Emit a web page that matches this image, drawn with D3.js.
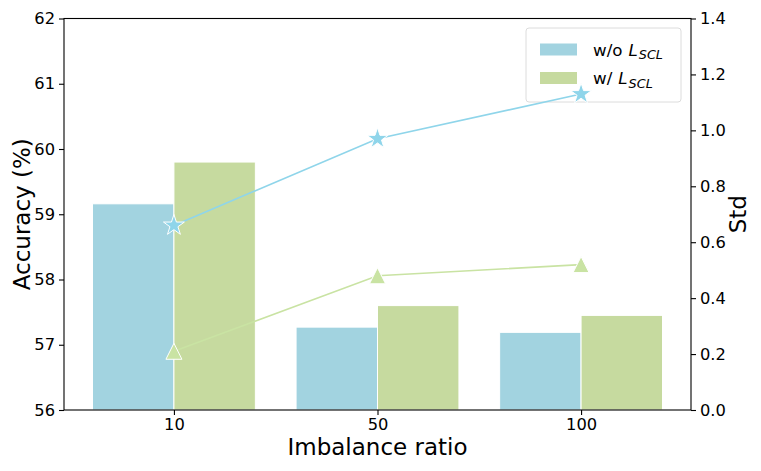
<!DOCTYPE html>
<html>
<head>
<meta charset="utf-8">
<script src="https://cdn.jsdelivr.net/npm/d3@7"></script>
<style>
  body { margin: 0; background: #fff; }
  text { font-family: "DejaVu Sans", sans-serif; fill: #000; }
</style>
</head>
<body>
<svg id="chart" width="761" height="471"></svg>
<script>
// imbalance ratios on the x axis
const ratios = ['10', '50', '100'];
// accuracy bars (left axis)
const accWo = [59.16, 57.27, 57.19];
const accW = [59.80, 57.60, 57.45];
// std lines (right axis)
const stdWo = [0.66, 0.97, 1.13];
const stdW = [0.21, 0.48, 0.52];
const accTicks = [56, 57, 58, 59, 60, 61, 62];
const stdTicks = [0, 0.2, 0.4, 0.6, 0.8, 1.0, 1.2, 1.4];

const blueBar = '#a2d3e0', greenBar = '#c6da9f';
const blueLine = '#8fd5ea', greenLine = '#c9e3a3';

const svg = d3.select('#chart');
const plotL = 64, plotR = 691, plotT = 18.5, plotB = 410;

// categorical index -> px (xlim -0.54 .. 2.54 like matplotlib margins)
const x = d3.scaleLinear().domain([-0.54, 2.54]).range([plotL, plotR]);
const yAcc = d3.scaleLinear().domain([56, 62]).range([plotB, plotT]);
const yStd = d3.scaleLinear().domain([0, 1.4]).range([plotB, plotT]);
const bw = 0.4;

const bars = [];
ratios.forEach((r, i) => {
    bars.push({i: i, off: -bw, v: accWo[i], c: blueBar});
    bars.push({i: i, off: 0, v: accW[i], c: greenBar});
});

svg.append('g').selectAll('rect')
    .data(bars)
    .join('rect')
    .attr('x', d => x(d.i + d.off))
    .attr('width', d => x(bw) - x(0))
    .attr('y', d => yAcc(d.v))
    .attr('height', d => plotB - yAcc(d.v))
    .style('fill', d => d.c)
    .style('stroke', '#fff')
    .style('stroke-width', 1);

// star / triangle paths
function starPath(R) {
    const r = R * 0.382, pts = [];
    for (let k = 0; k < 10; k++) {
        const a = -Math.PI / 2 + k * Math.PI / 5;
        const rr = k % 2 === 0 ? R : r;
        pts.push([rr * Math.cos(a), rr * Math.sin(a)]);
    }
    return 'M' + pts.map(p => p.join(',')).join('L') + 'Z';
}
function triPath(s) {
    return `M0,${-s}L${-s},${s}L${s},${s}Z`;
}

const lineGen = yS => d3.line().x((d, i) => x(i)).y(d => yS(d));

const series = [
    {vals: stdW, c: greenLine, path: triPath(8)},
    {vals: stdWo, c: blueLine, path: starPath(11)}
];

// legend (drawn under the std lines, like twinx in matplotlib)
const leg = svg.append('g').attr('transform', 'translate(526,28)');
leg.append('rect')
    .attr('width', 155).attr('height', 74).attr('rx', 3)
    .style('fill', '#fff').style('fill-opacity', 0.8)
    .style('stroke', '#dcdcdc').style('stroke-width', 1);
const legItems = [
    {c: blueBar, t: 'w/o', y: 21.5},
    {c: greenBar, t: 'w/', y: 50}
];
legItems.forEach(it => {
    leg.append('rect')
        .attr('x', 14).attr('y', it.y - 6).attr('width', 37).attr('height', 12)
        .style('fill', it.c);
    const t = leg.append('text')
        .attr('x', 67).attr('y', it.y + 6)
        .style('font-size', '16.7px');
    t.append('tspan').text(it.t);
    t.append('tspan').attr('dx', 6).style('font-style', 'italic').text('L');
    t.append('tspan').attr('dx', 1).style('font-style', 'italic').style('font-size', '12.8px')
        .attr('dy', 3.5).text('SCL');
});

series.forEach(s => {
    svg.append('path')
        .datum(s.vals)
        .attr('d', lineGen(yStd))
        .style('fill', 'none')
        .style('stroke', s.c)
        .style('stroke-width', 1.6);
    svg.append('g').selectAll('path')
        .data(s.vals)
        .join('path')
        .attr('d', s.path)
        .attr('transform', (d, i) => `translate(${x(i)},${yStd(d)})`)
        .style('fill', s.c)
        .style('stroke', '#fff')
        .style('stroke-width', 1);
});

// frame
svg.append('rect')
    .attr('x', plotL).attr('y', plotT)
    .attr('width', plotR - plotL).attr('height', plotB - plotT)
    .style('fill', 'none').style('stroke', '#000').style('stroke-width', 1.1);

const fmtStd = d3.format('.1f');
const axL = svg.append('g').attr('transform', `translate(${plotL},0)`)
    .call(d3.axisLeft(yAcc).tickValues(accTicks).tickFormat(d3.format('d')).tickSize(5).tickPadding(4));
const axR = svg.append('g').attr('transform', `translate(${plotR},0)`)
    .call(d3.axisRight(yStd).tickValues(stdTicks).tickFormat(fmtStd).tickSize(5).tickPadding(4));
const axB = svg.append('g').attr('transform', `translate(0,${plotB})`)
    .call(d3.axisBottom(x).tickValues([0, 1, 2]).tickFormat(i => ratios[i]).tickSize(5).tickPadding(3.5));

[axL, axR, axB].forEach(a => {
    a.select('.domain').remove();
    a.selectAll('line').style('stroke', '#000').style('stroke-width', 1.1);
    a.selectAll('text').style('font-size', '16.3px').style('font-family', '"DejaVu Sans", sans-serif');
});

svg.append('text')
    .attr('x', (plotL + plotR) / 2).attr('y', 455)
    .attr('text-anchor', 'middle')
    .style('font-size', '23px')
    .text('Imbalance ratio');
svg.append('text')
    .attr('transform', `translate(30,${(plotT + plotB) / 2}) rotate(-90)`)
    .attr('text-anchor', 'middle')
    .style('font-size', '23px')
    .text('Accuracy (%)');
svg.append('text')
    .attr('transform', `translate(746,${(plotT + plotB) / 2}) rotate(-90)`)
    .attr('text-anchor', 'middle')
    .style('font-size', '23px')
    .text('Std');
</script>
</body>
</html>
